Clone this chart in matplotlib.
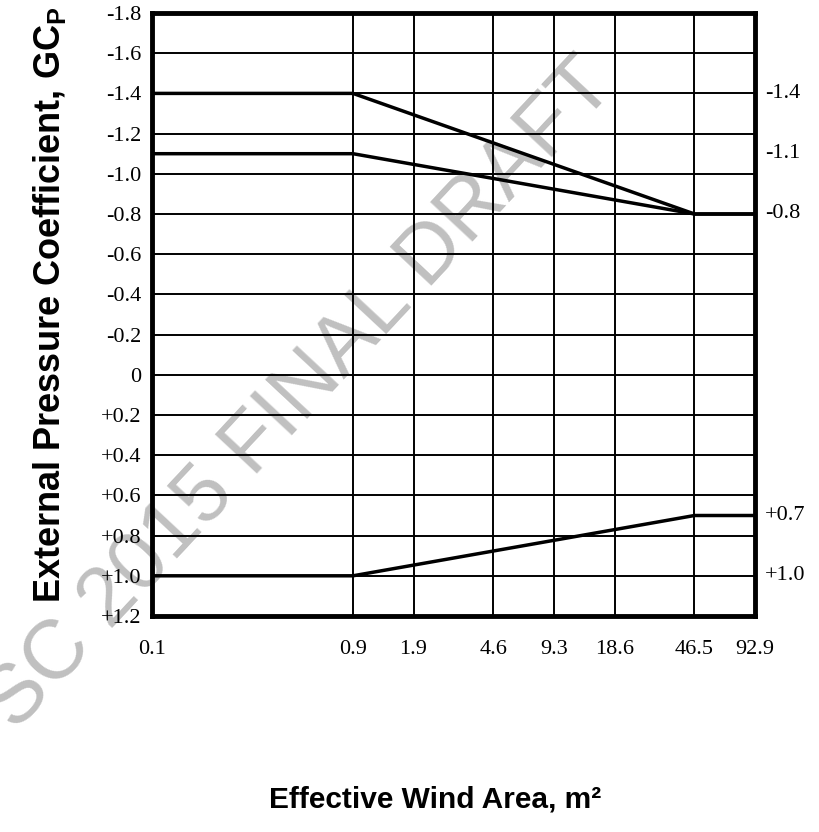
import numpy as np
import matplotlib
matplotlib.use('Agg')
import matplotlib.pyplot as plt
import matplotlib.transforms as mtransforms

# effective wind area in m2 (grid positions come from 1, 10, 20, 50 ... 1000 ft2)
area_ticks = [0.0929, 0.929, 1.858, 4.645, 9.29, 18.58, 46.45, 92.9]
area_labels = ['0.1', '0.9', '1.9', '4.6', '9.3', '18.6', '46.5', '92.9']

# GCp curves
area_pts = [0.0929, 0.929, 46.45, 92.9]
gcp_a = [-1.4, -1.4, -0.8, -0.8]
gcp_b = [-1.1, -1.1, -0.8, -0.8]
gcp_c = [1.0, 1.0, 0.7, 0.7]

# y axis
gcp_ticks = [-1.8, -1.6, -1.4, -1.2, -1.0, -0.8, -0.6, -0.4, -0.2, 0.0,
             0.2, 0.4, 0.6, 0.8, 1.0, 1.2]
gcp_labels = ['-1.8', '-1.6', '-1.4', '-1.2', '-1.0', '-0.8', '-0.6', '-0.4', '-0.2', '0',
              '+0.2', '+0.4', '+0.6', '+0.8', '+1.0', '+1.2']

# values written at the right edge
right_vals = [-1.4, -1.1, -0.8, 0.7, 1.0]
right_labels = ['-1.4', '-1.1', '-0.8', '+0.7', '+1.0']

plt.rcParams['mathtext.fontset'] = 'custom'
plt.rcParams['mathtext.bf'] = 'Liberation Sans:bold'
plt.rcParams['mathtext.rm'] = 'Liberation Sans:bold'

fig = plt.figure(figsize=(8.19, 8.32), dpi=100)
ax = fig.add_axes([152/819, 1 - 616/832, (755 - 152)/819, (616 - 13)/832])

ax.set_xscale('log')
ax.set_xlim(area_ticks[0], area_ticks[-1])
ax.set_ylim(gcp_ticks[-1], gcp_ticks[0])  # inverted, suction on top

# grid drawn by hand so the spines stay on top
for xv in area_ticks[1:-1]:
    ax.axvline(xv, color='black', lw=1.4, zorder=1)
for yv in gcp_ticks[1:-1]:
    ax.axhline(yv, color='black', lw=1.4, zorder=1)

for g in [gcp_a, gcp_b, gcp_c]:
    ax.plot(area_pts, g, color='black', lw=2.5, solid_joinstyle='miter', zorder=3)

ax.xaxis.set_minor_locator(matplotlib.ticker.NullLocator())
ax.set_xticks(area_ticks)
ax.set_xticklabels(area_labels)
ax.set_yticks(gcp_ticks)
ax.set_yticklabels(gcp_labels)
ax.tick_params(axis='both', length=0, labelsize=16)
ax.tick_params(axis='x', pad=17)
ax.tick_params(axis='y', pad=7.5)
for lab in ax.get_xticklabels() + ax.get_yticklabels():
    lab.set_fontfamily('Liberation Serif')

for sp in ax.spines.values():
    sp.set_linewidth(3.5)
    sp.set_zorder(4)

trans = mtransforms.blended_transform_factory(ax.transAxes, ax.transData)
for v, lab in zip(right_vals, right_labels):
    ax.text(1.017, v, lab, transform=trans, ha='left', va='center',
            fontsize=16, family='Liberation Serif')

ax.set_ylabel(r'External Pressure Coefficient, GC$_{\mathbf{P}}$',
              fontsize=26, fontweight='bold', family='Liberation Sans')
ax.yaxis.set_label_coords(-0.14, 0.516)
fig.text(0.531, 1 - 800/832, 'Effective Wind Area, m\u00b2', ha='center', va='center',
         fontsize=21.5, fontweight='bold', family='Liberation Sans')

# faint diagonal watermark behind the grid
ax.text(300/819, 1 - 395/832, 'SC 2015 FINAL DRAFT', transform=fig.transFigure,
        rotation=47, rotation_mode='anchor', ha='center', va='center',
        fontsize=60, family='Liberation Sans', color='#c0c0c0',
        clip_on=False, zorder=0.5)

fig.savefig('out.png', dpi=100)
